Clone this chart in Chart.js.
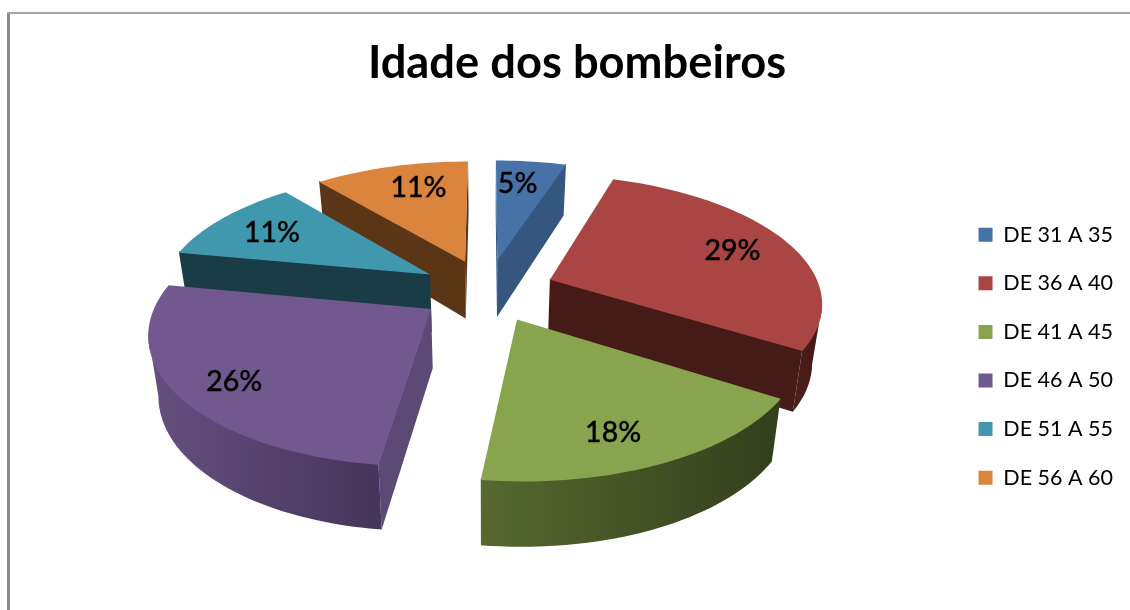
<!DOCTYPE html>
<html>
<head>
<meta charset="utf-8">
<script src="https://cdn.jsdelivr.net/npm/chart.js@4"></script>
<style>
html,body{margin:0;padding:0;background:#fff;overflow:hidden}
#wrap{position:relative;width:1130px;height:610px}
canvas{position:absolute;left:0;top:0}
#fl{position:absolute;left:7px;top:12px;width:3px;height:598px;background:#888}
#ft{position:absolute;left:7px;top:12px;width:1123px;height:2px;background:#a6a6a6}
</style>
</head>
<body>
<div id="wrap"><div id="fl"></div><div id="ft"></div><canvas id="c" width="1130" height="610"></canvas></div>
<script>
const chartTitle = "Idade dos bombeiros";
const categories = ["DE 31 A 35","DE 36 A 40","DE 41 A 45","DE 46 A 50","DE 51 A 55","DE 56 A 60"];
const percents = [5,29,18,26,11,11];
const topColors = ["#4672a8","#a94543","#89a44e","#71588f","#4098af","#db843d"];
const radialWallColors = ["#34567f","#451b18","#3a4720","#5c4975","#1a3c47","#5a3516"];
const rimLight = ["#34567f","#4e1f1c","#56692f","#654f80","#1a3c47","#5a3516"];
const rimDark = ["#2c4a6e","#3f1815","#333e1c","#46355a","#1a3c47","#5a3516"];

const view3d = {
  dx: -4.1, dy: -66, explode: 0.25, persp: 0.162,
  sx: 270.6, sy: 125, depth: 58, depthV: 6, baseShrink: 0.97, labelR: 0.75,
  labelNudge: [[-6,0],[4,1],[-9,10],[-11,10],[0,1],[11,0]]
};

const pie3d = {
  id: 'pie3d',
  beforeDatasetsDraw(chart){
    const ctx = chart.ctx, meta = chart.getDatasetMeta(0), V = view3d;
    const arcs = meta.data;
    if(!arcs.length) return false;
    const proj = (a,u,v,bottom)=>{
      const w = 1 - V.persp*v;
      let x = V.sx*u/w, y = V.sy*v/w;
      if(bottom){ x *= V.baseShrink; y += V.depth + V.depthV*v; }
      return [a.x + V.dx + x, a.y + V.dy + y];
    };
    const lift = p => [p[0], p[1]-1.2];
    const poly = (pts,fill)=>{
      ctx.beginPath();
      pts.forEach((p,i)=> i?ctx.lineTo(p[0],p[1]):ctx.moveTo(p[0],p[1]));
      ctx.closePath(); ctx.fillStyle=fill; ctx.fill();
    };
    const slices = arcs.map((a,i)=>{
      const mid=(a.startAngle+a.endAngle)/2;
      const ou=V.explode*Math.cos(mid), ov=V.explode*Math.sin(mid);
      const rim=[]; const n=Math.max(4,Math.ceil((a.endAngle-a.startAngle)/0.03));
      for(let j=0;j<=n;j++){
        const t=a.startAngle+(a.endAngle-a.startAngle)*j/n;
        rim.push([ou+Math.cos(t),ov+Math.sin(t)]);
      }
      return {a,i,mid,ou,ov,rim};
    });
    slices.slice().sort((p,q)=>p.ov-q.ov).forEach(s=>{
      const {a,i,ou,ov,rim}=s;
      const wall=(p,q,col)=>{
        const P=proj(a,p[0],p[1]), Q=proj(a,q[0],q[1]);
        if(Q[0]-P[0]<0) poly([lift(P),lift(Q),proj(a,q[0],q[1],true),proj(a,p[0],p[1],true)],col);
      };
      const apex=[ou,ov];
      wall(apex,rim[0],radialWallColors[i]);
      wall(rim[rim.length-1],apex,radialWallColors[i]);
      const front=[];
      for(let j=0;j<rim.length-1;j++){
        const P=proj(a,rim[j][0],rim[j][1]), Q=proj(a,rim[j+1][0],rim[j+1][1]);
        if(Q[0]-P[0]<0){ if(!front.length) front.push(rim[j]); front.push(rim[j+1]); }
      }
      if(front.length>1){
        const tops=front.map(p=>lift(proj(a,p[0],p[1])));
        const bots=front.map(p=>proj(a,p[0],p[1],true)).reverse();
        const all=tops.concat(bots).map(p=>p[0]);
        const g=ctx.createLinearGradient(Math.min(...all),0,Math.max(...all),0);
        g.addColorStop(0,rimLight[i]); g.addColorStop(1,rimDark[i]);
        poly(tops.concat(bots),g);
      }
      poly([apex,...rim].map(p=>proj(a,p[0],p[1])),a.options.backgroundColor);
    });
    return false;
  },
  afterDraw(chart){
    const ctx=chart.ctx, V=view3d, ds=chart.data.datasets[0];
    chart.getDatasetMeta(0).data.forEach((a,i)=>{
      const mid=(a.startAngle+a.endAngle)/2;
      const u=(V.explode+V.labelR)*Math.cos(mid), v=(V.explode+V.labelR)*Math.sin(mid);
      const w=1-V.persp*v;
      ctx.save();
      ctx.font='500 28.5px Lato, sans-serif';
      ctx.fillStyle='#000'; ctx.strokeStyle='#000'; ctx.lineWidth=0.35;
      ctx.textAlign='center'; ctx.textBaseline='middle';
      const t=ds.data[i]+'%';
      const x=a.x+V.dx+V.sx*u/w+V.labelNudge[i][0], y=a.y+V.dy+V.sy*v/w+V.labelNudge[i][1];
      ctx.fillText(t,x,y); ctx.strokeText(t,x,y);
      ctx.restore();
    });
  }
};

new Chart(document.getElementById('c'),{
  type:'pie',
  data:{labels:categories,datasets:[{data:percents,backgroundColor:topColors,borderWidth:0}]},
  plugins:[pie3d],
  options:{
    responsive:false,animation:false,
    layout:{padding:{left:31,right:7,top:36,bottom:5}},
    plugins:{
      tooltip:{enabled:false},
      title:{display:true,text:chartTitle,color:'#000',font:{family:'Lato, sans-serif',size:45.3,weight:'bold'},padding:{top:0,bottom:17}},
      legend:{position:'right',fullSize:false,labels:{color:'#000',font:{family:'Lato, sans-serif',size:21.5},boxWidth:14,boxHeight:14,padding:27.1}}
    }
  }
});
</script>
</body>
</html>
